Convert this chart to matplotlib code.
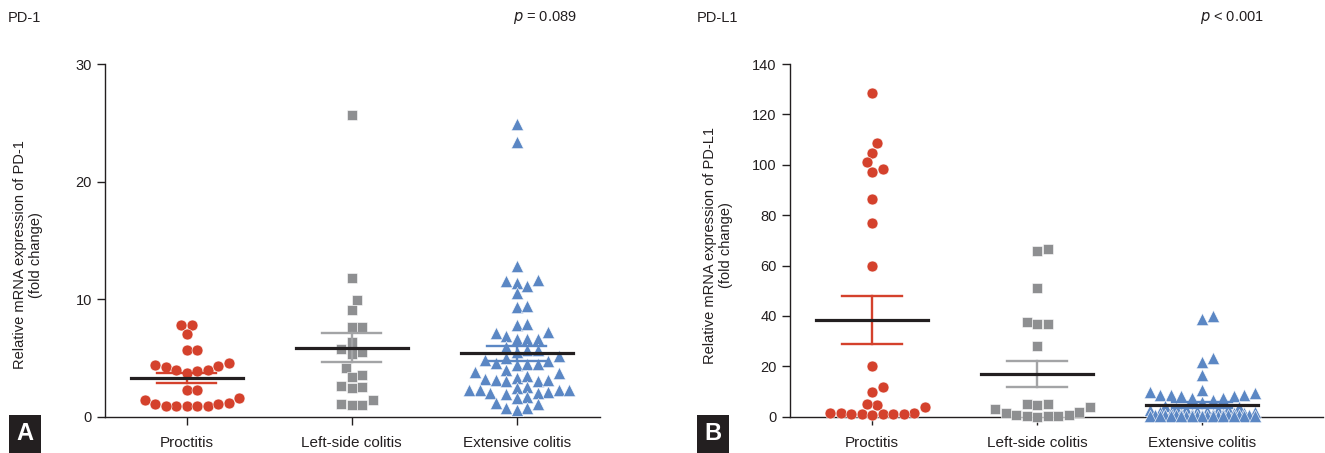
import numpy as np
import matplotlib.pyplot as plt

plt.rcParams['font.family'] = ['Liberation Sans', 'DejaVu Sans']

groups = ['Proctitis', 'Left-side colitis', 'Extensive colitis']

# PD-1 relative expression (fold change)
pd1_proctitis = [7.8, 7.8, 7.0, 5.7, 5.7, 4.6, 4.4, 4.25, 4.0, 3.75, 3.9, 4.0, 4.3,
                 2.3, 2.3, 1.4, 1.2, 1.55, 1.1, 0.9, 0.9, 0.9, 0.9, 0.9, 1.05]
pd1_left = [25.7, 11.8, 9.9, 9.1, 7.65, 7.65, 6.35, 5.8, 5.5, 5.35, 4.1, 3.55, 3.35,
            2.55, 2.4, 2.6, 1.45, 1.1, 1.0, 1.0]
pd1_ext = [24.9, 23.4, 12.8, 11.6, 11.4, 11.5, 11.1, 10.5, 9.35, 9.4, 7.8, 7.9, 7.1, 7.2,
           6.6, 6.6, 6.6, 6.9, 5.7, 5.5, 5.9, 5.7, 5.0, 4.8, 5.2, 4.6, 4.4, 4.5, 4.7, 4.5,
           3.8, 3.7, 4.0, 3.3, 3.2, 3.5, 3.1, 3.0, 3.0, 3.1, 2.55, 2.4, 2.3, 2.3, 2.3, 2.3,
           2.1, 2.0, 1.9, 2.0, 1.7, 1.55, 1.2, 1.1, 0.7, 0.55, 0.7]
pd1_mean = [3.26, 5.86, 5.38]
pd1_sem = [0.43, 1.22, 0.62]

# PD-L1 relative expression (fold change)
pdl1_proctitis = [128.6, 108.8, 104.8, 101.2, 98.5, 97.3, 86.4, 76.9, 59.7, 20.1, 11.6,
                  9.9, 4.6, 5.0, 4.0, 1.3, 0.9, 0.9, 0.9, 0.7, 1.3, 0.9, 1.3, 0.9]
pdl1_left = [66.7, 65.6, 51.2, 37.4, 36.7, 36.7, 27.9, 5.0, 5.0, 2.9, 2.0, 3.7, 4.6,
             1.6, 0.7, 0.3, 0.0, 0.3, 0.3, 0.7]
pdl1_ext = [40.1, 38.6, 23.2, 21.8, 16.5, 10.6, 9.9, 9.5, 8.5, 8.5, 8.3, 8.5, 8.3, 7.3,
            7.3, 6.5, 6.0, 4.2, 3.8, 3.5, 3.2, 3.0, 2.8, 2.5, 2.3, 2.1, 2.0, 1.8, 1.6,
            1.5, 1.4, 1.2, 1.1, 1.0, 0.9, 0.8, 0.8, 0.7, 0.6, 0.6, 0.5, 0.5, 0.4, 0.4,
            0.3, 0.3, 0.3, 0.2, 0.2, 0.2, 0.2, 0.1, 0.1, 0.1, 0.1, 0.1, 0.1]
pdl1_mean = [38.4, 17.1, 4.8]
pdl1_sem = [9.6, 5.15, 1.2]

COLORS = ['#d4412c', '#8e8f91', '#5b87c4']
SEM_COLORS = ['#d4412c', '#a3a4a6', '#5b87c4']
MARKERS = ['o', 's', '^']
SIZES = [62, 54, 78]
DIAM = 10.5  # px, used for the swarm layout
INK = '#231f20'


def swarm_offsets(ax, xc, values, diam, maxw):
    # simple beeswarm: place points bottom-up, nearest free slot to the centre
    trans = ax.transData
    vals = np.asarray(values, dtype=float)
    ypx = trans.transform(np.column_stack([np.full(len(vals), xc), vals]))[:, 1]
    unit = trans.transform((1, 0))[0] - trans.transform((0, 0))[0]
    step = diam / 2
    cands = [0.0]
    k = 1
    while k * step <= maxw * unit:
        cands += [k * step, -k * step]
        k += 1
    offs = np.zeros(len(vals))
    placed = []
    for i in np.argsort(vals, kind='stable'):
        best, bestd = 0.0, -1.0
        for c in cands:
            dmin = min((np.hypot(c - px, ypx[i] - py) for px, py in placed),
                       default=np.inf)
            if dmin >= diam * 0.97:
                best = c
                break
            if dmin > bestd:
                best, bestd = c, dmin
        offs[i] = best
        placed.append((best, ypx[i]))
    return offs / unit


def panel(ax, data, means, sems, ylim, yticks, xlim):
    ax.set_xlim(*xlim)
    ax.set_ylim(*ylim)
    for i, vals in enumerate(data):
        offs = swarm_offsets(ax, i, vals, DIAM, 0.34)
        ax.scatter(i + offs, vals, s=SIZES[i], marker=MARKERS[i], color=COLORS[i],
                   edgecolors='white', linewidths=0.4, zorder=3, clip_on=False)
        m, s = means[i], sems[i]
        for yy in (m + s, m - s):
            ax.plot([i - 0.18, i + 0.18], [yy, yy], color=SEM_COLORS[i], lw=1.7,
                    zorder=4, clip_on=False)
        ax.plot([i, i], [m - s, m + s], color=SEM_COLORS[i], lw=1.7, zorder=4,
                clip_on=False)
        ax.plot([i - 0.34, i + 0.34], [m, m], color=INK, lw=2.3, zorder=5,
                clip_on=False)
    ax.set_yticks(yticks)
    ax.set_xticks(range(len(groups)))
    ax.set_xticklabels(groups, fontsize=11)
    ax.tick_params(axis='y', labelsize=10.5, length=6, width=1, color=INK,
                   labelcolor=INK)
    ax.tick_params(axis='x', length=6, width=1, color=INK, labelcolor=INK, pad=8)
    for side in ['top', 'right']:
        ax.spines[side].set_visible(False)
    for side in ['left', 'bottom']:
        ax.spines[side].set_linewidth(1)
        ax.spines[side].set_color(INK)


fig = plt.figure(figsize=(13.25, 4.53), dpi=100)
W, H = 1325, 453

ax1 = fig.add_axes([105 / W, (H - 416.7) / H, 495 / W, 352.7 / H])
panel(ax1, [pd1_proctitis, pd1_left, pd1_ext], pd1_mean, pd1_sem,
      (0, 30), [0, 10, 20, 30], (-0.495, 2.505))

ax2 = fig.add_axes([790 / W, (H - 416.7) / H, 533 / W, 352.7 / H])
panel(ax2, [pdl1_proctitis, pdl1_left, pdl1_ext], pdl1_mean, pdl1_sem,
      (0, 140), list(range(0, 141, 20)), (-0.497, 2.733))

fig.text(28 / W, 1 - 255 / H, 'Relative mRNA expression of PD-1\n(fold change)',
         rotation=90, ha='center', va='center', multialignment='center',
         fontsize=10.5, color=INK, linespacing=1.2)
fig.text(718 / W, 1 - 245 / H, 'Relative mRNA expression of PD-L1\n(fold change)',
         rotation=90, ha='center', va='center', multialignment='center',
         fontsize=10.5, color=INK, linespacing=1.2)

fig.text(8 / W, 1 - 18 / H, 'PD-1', fontsize=10.5, va='center', color=INK)
fig.text(697 / W, 1 - 18 / H, 'PD-L1', fontsize=10.5, va='center', color=INK)
fig.text(545 / W, 1 - 18 / H, r'$p$ = 0.089', fontsize=10.5, va='center', ha='center',
         color=INK)
fig.text(1232 / W, 1 - 18 / H, r'$p$ < 0.001', fontsize=10.5, va='center', ha='center',
         color=INK)

for x0, letter in [(8, 'A'), (696, 'B')]:
    fig.text((x0 + 17) / W, 1 - 434 / H, letter, fontsize=17, fontweight='bold',
             color='white', ha='center', va='center',
             bbox=dict(boxstyle='square,pad=0.3', fc=INK, ec='none'))

fig.savefig('out.png', dpi=100)
